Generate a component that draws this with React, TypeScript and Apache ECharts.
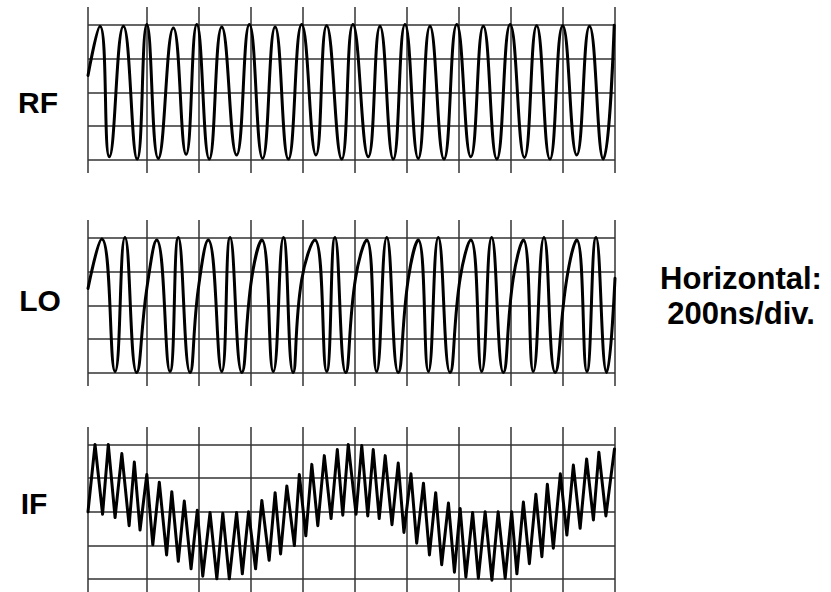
import React, { useEffect, useRef } from "react";
import * as echarts from "echarts";

// Time axis in ns (200 ns per division); the left border sits a little before the first division line.
const xGridLines = [0, 225, 425, 625, 825, 1025, 1225, 1425, 1625, 1825, 2025];
const yGridLines = [-2, -1, 0, 1, 2];
const panelLabels = ["RF", "LO", "IF"];
const noteLines = ["Horizontal:", "200ns/div."];

// [time ns, level div]
const rfPoints: [number, number][] = [
  [0, 0.5], [46, 1.95], [82, -1.9], [136, 1.95], [189, -1.97], [226, 2.0], [270, -1.95],
  [328, 1.9], [377, -1.83], [418, 2.0], [466, -1.97], [514, 1.93], [571, -1.85], [620, 2.0],
  [671, -1.95], [719, 1.93], [770, -1.97], [821, 2.0], [876, -1.85], [917, 1.97], [975, -1.97],
  [1018, 2.0], [1077, -1.9], [1122, 1.95], [1173, -1.97], [1218, 2.0], [1269, -1.95], [1314, 1.95],
  [1368, -1.97], [1417, 2.0], [1471, -1.9], [1519, 1.95], [1571, -1.97], [1622, 2.0], [1677, -1.92],
  [1724, 1.97], [1775, -1.97], [1824, 1.97], [1878, -1.85], [1927, 1.95], [1980, -1.97], [2022, 1.98],
];

const loPoints: [number, number][] = [
  [0, 0.5], [53, 1.96], [104, -1.95], [142, 2.0], [187, -1.98], [226, 0.5], [264, 1.93],
  [315, -1.95], [347, 2.0], [392, -1.98], [424, 0.5], [462, 1.93], [514, -1.95], [546, 2.0],
  [591, -1.98], [629, 0.8], [668, 1.93], [712, -1.95], [751, 2.0], [788, -1.98], [821, 0.75],
  [872, 1.93], [917, -1.95], [949, 2.0], [990, -1.98], [1028, 0.8], [1071, 1.93], [1109, -1.95],
  [1148, 2.0], [1192, -1.98], [1231, 0.8], [1269, 1.93], [1308, -1.95], [1346, 2.0], [1391, -1.98],
  [1430, 0.8], [1471, 1.93], [1513, -1.95], [1551, 2.0], [1596, -1.98], [1634, 0.8], [1673, 1.93],
  [1711, -1.95], [1752, 2.0], [1795, -1.98], [1840, 0.8], [1878, 1.93], [1917, -1.95], [1952, 2.0],
  [1993, -1.98], [2025, 0.8],
];

const ifPoints: [number, number][] = [
  [0, 0], [27, 2.0], [56, -0.07], [78, 2.0], [104, -0.17], [130, 1.73], [158, -0.41], [178, 1.48],
  [200, -0.54], [226, 1.11], [249, -0.98], [274, 0.88], [302, -1.28], [322, 0.6], [347, -1.47],
  [370, 0.32], [396, -1.69], [420, 0.05], [441, -1.91], [469, -0.02], [495, -1.99], [518, -0.04],
  [543, -1.99], [571, -0.02], [593, -1.84], [617, 0.0], [644, -1.69], [668, 0.34], [696, -1.44],
  [719, 0.57], [740, -1.25], [764, 0.77], [793, -1.0], [812, 1.11], [837, -0.71], [860, 1.41],
  [883, -0.41], [908, 1.67], [934, -0.2], [958, 1.85], [979, -0.1], [1000, 2.0], [1030, -0.07],
  [1052, 1.97], [1075, -0.12], [1096, 1.85], [1119, -0.2], [1142, 1.67], [1168, -0.38], [1192, 1.45],
  [1214, -0.61], [1241, 1.13], [1263, -0.93], [1289, 0.85], [1312, -1.28], [1336, 0.57], [1359, -1.57],
  [1385, 0.26], [1408, -1.79], [1430, 0.1], [1452, -1.94], [1478, -0.02], [1500, -1.97], [1526, 0.0],
  [1552, -2.03], [1576, 0.0], [1603, -1.97], [1628, 0.0], [1648, -1.84], [1673, 0.29], [1696, -1.54],
  [1721, 0.52], [1744, -1.33], [1765, 0.82], [1788, -1.08], [1815, 1.13], [1840, -0.69], [1865, 1.39],
  [1891, -0.49], [1916, 1.57], [1942, -0.24], [1963, 1.77], [1990, -0.12], [2023, 1.87],
];

const panelData = [rfPoints, loPoints, ifPoints];
const panelSmooth = [true, true, false];

const PANEL_TOPS = [7, 220, 427];
const PANEL_HEIGHT = 166;
const PLOT_LEFT = 88;
const PLOT_WIDTH = 527;
const Y_MIN = -2.38;
const Y_MAX = 2.52;
const LABEL_POS: [number, number][] = [[38, 102], [40, 300], [34, 503]];
const FONT = 'bold 30px "Liberation Sans", Arial, Helvetica, sans-serif';

export default function App() {
  const ref = useRef<HTMLDivElement>(null);

  useEffect(() => {
    if (!ref.current) return;
    const chart = echarts.init(ref.current, undefined, { renderer: "svg" });

    const grid = PANEL_TOPS.map((top) => ({
      left: PLOT_LEFT,
      width: PLOT_WIDTH,
      top,
      height: PANEL_HEIGHT,
      containLabel: false,
    }));
    const xAxis = PANEL_TOPS.map((_, i) => ({
      type: "value",
      gridIndex: i,
      min: xGridLines[0],
      max: xGridLines[xGridLines.length - 1],
      show: false,
    }));
    const yAxis = PANEL_TOPS.map((_, i) => ({
      type: "value",
      gridIndex: i,
      min: Y_MIN,
      max: Y_MAX,
      show: false,
    }));

    const series = panelData.map((pts, i) => ({
      type: "line",
      name: panelLabels[i],
      xAxisIndex: i,
      yAxisIndex: i,
      data: pts,
      smooth: panelSmooth[i] ? 0.5 : false,
      showSymbol: false,
      symbol: "none",
      z: 3,
      clip: true,
      lineStyle: { color: "#000", width: 3, join: "round", cap: "round" },
      emphasis: { disabled: true },
      markLine: {
        silent: true,
        z: 1,
        symbol: ["none", "none"],
        label: { show: false },
        emphasis: { disabled: true },
        lineStyle: { color: "#333", width: 1.5, type: "solid" },
        data: [
          ...xGridLines.map((v) => ({ xAxis: v })),
          ...yGridLines.map((v) => ({ yAxis: v })),
        ],
      },
    }));

    const graphic: any[] = panelLabels.map((t, i) => ({
      type: "text",
      x: LABEL_POS[i][0],
      y: LABEL_POS[i][1],
      style: {
        text: t,
        font: FONT,
        fill: "#000",
        textAlign: "center",
        align: "center",
        textVerticalAlign: "middle",
        verticalAlign: "middle",
      },
    }));
    noteLines.forEach((t, i) => {
      graphic.push({
        type: "text",
        x: 741,
        y: 278 + i * 35,
        style: {
          text: t,
          font: 'bold 31px "Liberation Sans", Arial, Helvetica, sans-serif',
          fill: "#000",
          textAlign: "center",
          align: "center",
          textVerticalAlign: "middle",
          verticalAlign: "middle",
        },
      });
    });

    chart.setOption({
      animation: false,
      backgroundColor: "#fff",
      grid,
      xAxis,
      yAxis,
      series,
      graphic,
    } as any);

    return () => chart.dispose();
  }, []);

  return (
    <div
      ref={ref}
      style={{ position: "fixed", left: 0, top: 0, width: 831, height: 592 }}
    />
  );
}
